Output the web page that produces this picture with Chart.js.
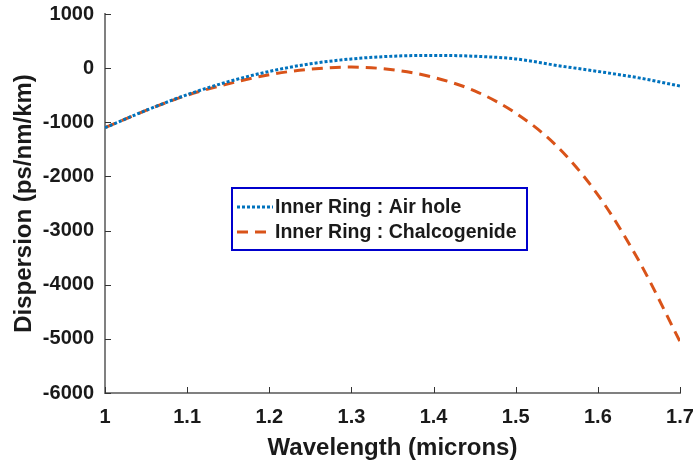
<!DOCTYPE html>
<html>
<head>
<meta charset="utf-8">
<script src="https://cdn.jsdelivr.net/npm/chart.js@4.4.1/dist/chart.umd.min.js"></script>
<style>
  html, body { margin: 0; padding: 0; background: #fff; }
  #wrap { width: 697px; height: 466px; }
</style>
</head>
<body>
<div id="wrap"><canvas id="chart" width="697" height="466"></canvas></div>
<script>
// wavelength (microns)
const wavelength = [1.00, 1.05, 1.10, 1.15, 1.20, 1.25, 1.30, 1.35, 1.40, 1.45, 1.50, 1.55, 1.60, 1.65, 1.70];
// dispersion (ps/nm/km)
const airHole = [-1100, -780, -490, -250, -60, 80, 170, 220, 235, 220, 170, 50, -60, -180, -330];
const chalcogenide = [-1100, -780, -500, -290, -120, -20, 20, -30, -170, -420, -830, -1440, -2340, -3560, -5050];

const xTicks = [1, 1.1, 1.2, 1.3, 1.4, 1.5, 1.6, 1.7];
const yTicks = [1000, 0, -1000, -2000, -3000, -4000, -5000, -6000];

const seriesNames = ['Inner Ring : Air hole', 'Inner Ring : Chalcogenide'];

const FONT = 'Arial, "Liberation Sans", sans-serif';
const axisColor = '#808080';
const textColor = '#1a1a1a';

// MATLAB-style inward ticks + boxed legend
const matlabBits = {
  id: 'matlabBits',
  afterDraw(chart) {
    const ctx = chart.ctx;
    const xs = chart.scales.x, ys = chart.scales.y;
    const area = chart.chartArea;
    ctx.save();
    ctx.strokeStyle = '#333';
    ctx.lineWidth = 1;
    xTicks.forEach(v => {
      const px = Math.round(xs.getPixelForValue(v)) + 0.5;
      ctx.beginPath();
      ctx.moveTo(px, area.bottom);
      ctx.lineTo(px, area.bottom - 6);
      ctx.stroke();
    });
    yTicks.forEach(v => {
      const py = Math.round(ys.getPixelForValue(v)) + 0.5;
      ctx.beginPath();
      ctx.moveTo(area.left, py);
      ctx.lineTo(area.left + 6, py);
      ctx.stroke();
    });

    // legend box
    const bx = 232, by = 188, bw = 295, bh = 62;
    ctx.fillStyle = '#fff';
    ctx.fillRect(bx, by, bw, bh);
    ctx.strokeStyle = '#0000cc';
    ctx.lineWidth = 2;
    ctx.strokeRect(bx, by, bw, bh);

    const rows = [207, 232];
    chart.data.datasets.forEach((ds, i) => {
      ctx.strokeStyle = ds.borderColor;
      ctx.lineWidth = ds.borderWidth;
      ctx.setLineDash(ds.borderDash);
      ctx.beginPath();
      ctx.moveTo(237, rows[i]);
      ctx.lineTo(273, rows[i]);
      ctx.stroke();
      ctx.setLineDash([]);
      ctx.fillStyle = textColor;
      ctx.font = 'bold 19.5px ' + FONT;
      ctx.textBaseline = 'middle';
      ctx.textAlign = 'left';
      ctx.fillText(ds.label, 275, rows[i] + 1);
    });
    ctx.restore();
  }
};

new Chart(document.getElementById('chart'), {
  type: 'line',
  data: {
    datasets: [
      {
        label: seriesNames[0],
        data: wavelength.map((w, i) => ({ x: w, y: airHole[i] })),
        borderColor: '#0072BD',
        borderWidth: 3,
        borderDash: [3, 2],
        pointRadius: 0,
        fill: false,
        cubicInterpolationMode: 'monotone'
      },
      {
        label: seriesNames[1],
        data: wavelength.map((w, i) => ({ x: w, y: chalcogenide[i] })),
        borderColor: '#D95319',
        borderWidth: 3,
        borderDash: [11, 7],
        pointRadius: 0,
        fill: false,
        cubicInterpolationMode: 'monotone'
      }
    ]
  },
  options: {
    responsive: false,
    animation: false,
    events: [],
    layout: { padding: { top: 14, right: 17, left: 0, bottom: 0 } },
    plugins: { legend: { display: false }, tooltip: { enabled: false } },
    scales: {
      x: {
        type: 'linear',
        min: 1, max: 1.7,
        afterBuildTicks: s => { s.ticks = xTicks.map(v => ({ value: v })); },
        afterFit: s => { s.height = 73; s.paddingLeft = 0; s.paddingRight = 0; },
        border: { color: axisColor, width: 2 },
        grid: { drawOnChartArea: false, drawTicks: false },
        ticks: {
          padding: 12,
          color: textColor,
          maxRotation: 0,
          font: { family: FONT, size: 20, weight: 'bold' },
          callback: v => String(v)
        },
        title: {
          display: true,
          text: 'Wavelength (microns)',
          color: textColor,
          padding: { top: 4, bottom: 3 },
          font: { family: FONT, size: 24, weight: 'bold' }
        }
      },
      y: {
        type: 'linear',
        min: -6000, max: 1000,
        afterBuildTicks: s => { s.ticks = yTicks.map(v => ({ value: v })); },
        afterFit: s => { s.width = 105; s.paddingTop = 0; s.paddingBottom = 0; },
        border: { color: axisColor, width: 2 },
        grid: { drawOnChartArea: false, drawTicks: false },
        ticks: {
          padding: 11,
          color: textColor,
          font: { family: FONT, size: 20, weight: 'bold' },
          callback: v => String(v)
        },
        title: {
          display: true,
          text: 'Dispersion (ps/nm/km)',
          color: textColor,
          padding: { top: 10, bottom: 4 },
          font: { family: FONT, size: 24, weight: 'bold' }
        }
      }
    }
  },
  plugins: [matlabBits]
});
</script>
</body>
</html>
